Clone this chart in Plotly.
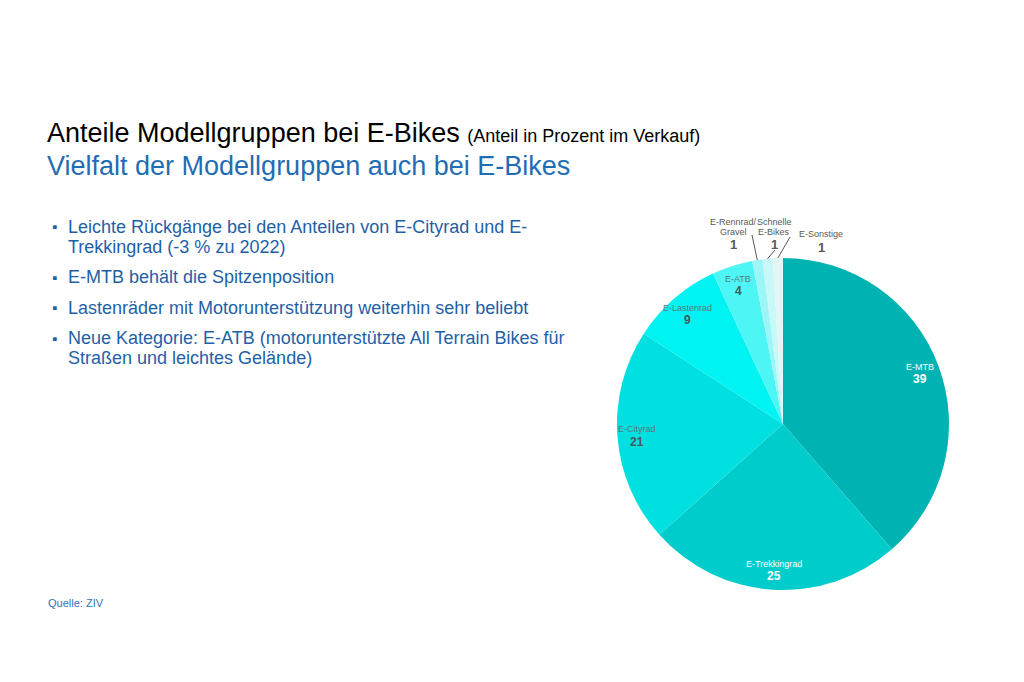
import math
import plotly.graph_objects as go

W, H = 1024, 682
OFF = 8  # page body margin of the browser

categories = ["E-MTB", "E-Trekkingrad", "E-Cityrad", "E-Lastenrad", "E-ATB",
              "E-Rennrad/ Gravel", "Schnelle E-Bikes", "E-Sonstige"]
values = [39, 25, 21, 9, 4, 1, 1, 1]
colors = ["#00B3B3", "#00CCCC", "#00E0E0", "#00F3F3", "#4DF5F5",
          "#9CF6F6", "#C9F8F8", "#E6F4F4"]

title_main = "Anteile Modellgruppen bei E-Bikes"
title_note = "(Anteil in Prozent im Verkauf)"
subtitle = "Vielfalt der Modellgruppen auch bei E-Bikes"
bullets = [
    ["Leichte Rückgänge bei den Anteilen von E-Cityrad und E-", "Trekkingrad (-3 % zu 2022)"],
    ["E-MTB behält die Spitzenposition"],
    ["Lastenräder mit Motorunterstützung weiterhin sehr beliebt"],
    ["Neue Kategorie: E-ATB (motorunterstützte All Terrain Bikes für", "Straßen und leichtes Gelände)"],
]
source = "Quelle: ZIV"

FONT = "Arial, Liberation Sans, sans-serif"
BLUE = "#1F5FA8"

# pie geometry (pixels in the page)
left, right, top, bottom = 617, 949, 258, 590
cx, cy = (left + right) / 2, (top + bottom) / 2
R = (right - left) / 2


def px(x):
    return (x - OFF) / W


def py(y):
    return 1 - (y - OFF) / H


fig = go.Figure()
fig.add_trace(go.Pie(
    labels=categories, values=values, sort=False, direction="clockwise",
    rotation=0, marker=dict(colors=colors, line=dict(width=0)),
    textinfo="none", hoverinfo="label+value", showlegend=False,
    domain=dict(x=[px(left), px(right)], y=[py(bottom), py(top)]),
))

ann = []
shapes = []


def text(x, y, t, size, color, xanchor="center", bold=False):
    ann.append(dict(x=px(x), y=py(y), xref="paper", yref="paper", xanchor=xanchor,
                    yanchor="middle", showarrow=False,
                    text=f"<b>{t}</b>" if bold else t,
                    font=dict(family=FONT, size=size, color=color)))


# title block
ann.append(dict(x=px(45), y=py(133), xref="paper", yref="paper", xanchor="left", yanchor="middle",
                showarrow=False,
                text=f"{title_main} <span style='font-size:18px'>{title_note}</span>",
                font=dict(family=FONT, size=27, color="#000000")))
text(45, 166, subtitle, 27, "#1F6DB4", xanchor="left")

# bullets
y = 227
for b in bullets:
    text(50, y, "▪", 15, BLUE, xanchor="left")
    for line in b:
        text(66, y, line, 18, BLUE, xanchor="left")
        y += 19.5
    y += 11

text(46, 603, source, 11, "#2E75B6", xanchor="left")

# slice labels
total = sum(values)
cum = 0
mids = []
for v in values:
    mids.append((cum + v / 2) / total * 2 * math.pi)
    cum += v

text_cols = ["#FFFFFF", "#FFFFFF", "#5A7A7A", "#5A7A7A", "#5A7A7A"]
val_cols = ["#FFFFFF", "#FFFFFF", "#4A5858", "#4A5858", "#4A5858"]
for i in range(5):
    a = mids[i]
    lx = cx + 0.88 * R * math.sin(a)
    ly = cy - 0.88 * R * math.cos(a)
    text(lx, ly - 6, categories[i], 9, text_cols[i])
    text(lx, ly + 6.5, values[i], 12, val_cols[i], bold=True)

# outside labels for small slices: (name lines, x centre, first line y, value y, leader end)
outside = [
    (["E-Rennrad/", "Gravel"], 733, 222, 244, (752, 235)),
    (["Schnelle", "E-Bikes"], 774, 222, 244, (775, 250)),
    (["E-Sonstige"], 821, 234, 247, (790, 237)),
]
for k, (lines, nx, ny, vy, (ex, ey)) in enumerate(outside):
    i = 5 + k
    for j, ln in enumerate(lines):
        text(nx, ny + 10.5 * j, ln, 9, "#595959")
    text(nx, vy, values[i], 13, "#595959", bold=True)
    a = mids[i]
    sx = cx + R * math.sin(a)
    sy = cy - R * math.cos(a)
    shapes.append(dict(type="line", xref="paper", yref="paper", x0=px(sx), y0=py(sy),
                       x1=px(ex), y1=py(ey), line=dict(color="#595959", width=1)))

fig.update_layout(
    width=W, height=H, margin=dict(l=0, r=0, t=0, b=0),
    paper_bgcolor="#FFFFFF", plot_bgcolor="#FFFFFF",
    annotations=ann, shapes=shapes,
)

fig.write_html("out.html")
